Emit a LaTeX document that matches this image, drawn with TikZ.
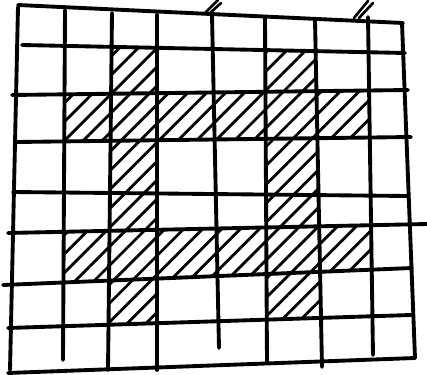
\documentclass[tikz,border=0pt]{standalone}
\usetikzlibrary{patterns.meta}
\usepackage{xcolor}
\definecolor{Ink}{HTML}{000000}
\newcommand{\HatchCell}[2]{%
  \pgfmathtruncatemacro{\cn}{#1+1}%
  \pgfmathtruncatemacro{\rn}{#2+1}%
  \fill[pattern={Lines[angle=45,distance=7.6pt,line width=1.6pt]},pattern color=Ink]
    (intersection of v#1t--v#1b and h#2l--h#2r) --
    (intersection of v\cn t--v\cn b and h#2l--h#2r) --
    (intersection of v\cn t--v\cn b and h\rn l--h\rn r) --
    (intersection of v#1t--v#1b and h\rn l--h\rn r) -- cycle;%
}

\begin{document}
\begin{tikzpicture}[x=0.02cm,y=-0.02cm,line cap=round,line join=round]
\useasboundingbox (0,0) rectangle (427,375);
% grid line ends, measured on the sketch
\foreach \i/\xa/\ya/\xb/\yb in {0/18/7/10/370,1/65/10/63/360,2/112/13/108/370,
  3/157/15/157/370,4/212/15/219/348,5/265/18/267/362,6/315/20/322/367,
  7/368/17/373/355,8/402/23/415/358} {
  \coordinate (v\i t) at (\xa,\ya);
  \coordinate (v\i b) at (\xb,\yb);
}
\foreach \j/\xa/\ya/\xb/\yb in {0/18/5/403/23,1/22/45/405/53,2/12/95/408/90,
  3/17/142/411/137,4/13/192/407/196,5/8/233/427/224,6/3/285/412/268,
  7/8/328/411/315,8/8/373/415/358} {
  \coordinate (h\j l) at (\xa,\ya);
  \coordinate (h\j r) at (\xb,\yb);
}
% hatched cells
\foreach \c/\r in {2/1,5/1,1/2,2/2,3/2,4/2,5/2,6/2,2/3,5/3,2/4,5/4,
  1/5,2/5,3/5,4/5,5/5,6/5,2/6,5/6}
  \HatchCell{\c}{\r};
% grid
\foreach \i in {0,...,8}
  \draw[Ink,line width=2.2pt] (v\i t) -- (v\i b);
\foreach \j in {0,...,8}
  \draw[Ink,line width=2.2pt] (h\j l) -- (h\j r);
% strokes above the top edge
\draw[Ink,line width=1.5pt] (205,13) -- (218,0) (209,14) -- (221,3);
\draw[Ink,line width=1.5pt] (354,18) -- (368,1) (359,18) -- (373,3);
\end{tikzpicture}
\end{document}
